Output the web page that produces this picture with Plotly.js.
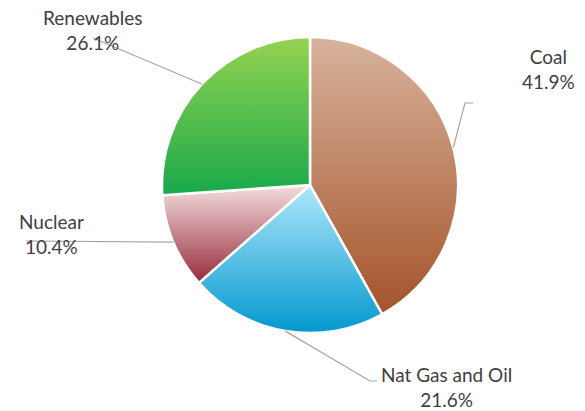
<!DOCTYPE html>
<html>
<head>
<meta charset="utf-8">
<script src="https://cdn.plot.ly/plotly-3.0.1.min.js"></script>
<style>html,body{margin:0;padding:0;background:#fff;}#chart{width:585px;height:411px;}</style>
</head>
<body>
<div id="chart"></div>
<script>
var categories = ["Coal", "Nat Gas and Oil", "Nuclear", "Renewables"];
var shares = [41.9, 21.6, 10.4, 26.1];
var gradTop = ["#d8b39d", "#b0e8fb", "#f3dede", "#95d351"];
var gradBottom = ["#a4542a", "#0398ce", "#962c3c", "#18a94b"];

var W = 585, H = 411;
var cx = 310, cy = 185, R = 148;
function px(x){ return x / W; }
function py(y){ return 1 - y / H; }

// label centres and leader-line bends (pixels)
var labelPos = [[548, 69], [446, 387], [51, 234], [93, 30]];
var leaderBends = [[[465,103],[473,103]], [[370,381],[377,381]], [[26,241]], [[93,38]]];

var total = shares.reduce(function(a,b){return a+b;}, 0);
var shapes = [], annotations = [];
var cum = 0;
for (var i = 0; i < shares.length; i++) {
  var mid = (cum + shares[i]/2) / total * 2 * Math.PI;
  cum += shares[i];
  var sx = cx + R * Math.sin(mid), sy = cy - R * Math.cos(mid);
  var path = "M " + px(sx) + " " + py(sy);
  leaderBends[i].forEach(function(p){ path += " L " + px(p[0]) + " " + py(p[1]); });
  shapes.push({type: "path", xref: "paper", yref: "paper", path: path,
               line: {color: "#a6a6a6", width: 1.2}});
  annotations.push({xref: "paper", yref: "paper", x: px(labelPos[i][0]), y: py(labelPos[i][1]),
    xanchor: "center", yanchor: "middle", showarrow: false, align: "center", borderpad: 0,
    text: categories[i] + "<br>" + shares[i].toFixed(1) + "%",
    font: {family: "Lato, 'Open Sans', sans-serif", size: 19, color: "#404040"}});
}

var data = [{
  type: "pie",
  labels: categories,
  values: shares,
  sort: false,
  direction: "clockwise",
  rotation: 0,
  textinfo: "none",
  hoverinfo: "none",
  showlegend: false,
  marker: {colors: gradBottom, line: {color: "#ffffff", width: 2.5}},
  domain: {x: [px(cx - R), px(cx + R)], y: [py(cy + R), py(cy - R)]}
}];

var layout = {
  width: W, height: H,
  margin: {l: 0, r: 0, t: 0, b: 0},
  paper_bgcolor: "#ffffff",
  showlegend: false,
  shapes: shapes,
  annotations: annotations
};

Plotly.newPlot("chart", data, layout, {staticPlot: true}).then(function(gd){
  var svg = gd.querySelector("svg.main-svg");
  var ns = "http://www.w3.org/2000/svg";
  var defs = document.createElementNS(ns, "defs");
  for (var i = 0; i < categories.length; i++) {
    var g = document.createElementNS(ns, "linearGradient");
    g.setAttribute("id", "sliceGrad" + i);
    g.setAttribute("x1", "0"); g.setAttribute("y1", "0");
    g.setAttribute("x2", "0"); g.setAttribute("y2", "1");
    var s1 = document.createElementNS(ns, "stop");
    s1.setAttribute("offset", "0"); s1.setAttribute("stop-color", gradTop[i]);
    var s2 = document.createElementNS(ns, "stop");
    s2.setAttribute("offset", "1"); s2.setAttribute("stop-color", gradBottom[i]);
    g.appendChild(s1); g.appendChild(s2);
    defs.appendChild(g);
  }
  svg.insertBefore(defs, svg.firstChild);
  var paths = gd.querySelectorAll("g.slice path.surface");
  paths.forEach(function(p, k){ p.style.fill = "url(#sliceGrad" + k + ")"; });
});
</script>
</body>
</html>
